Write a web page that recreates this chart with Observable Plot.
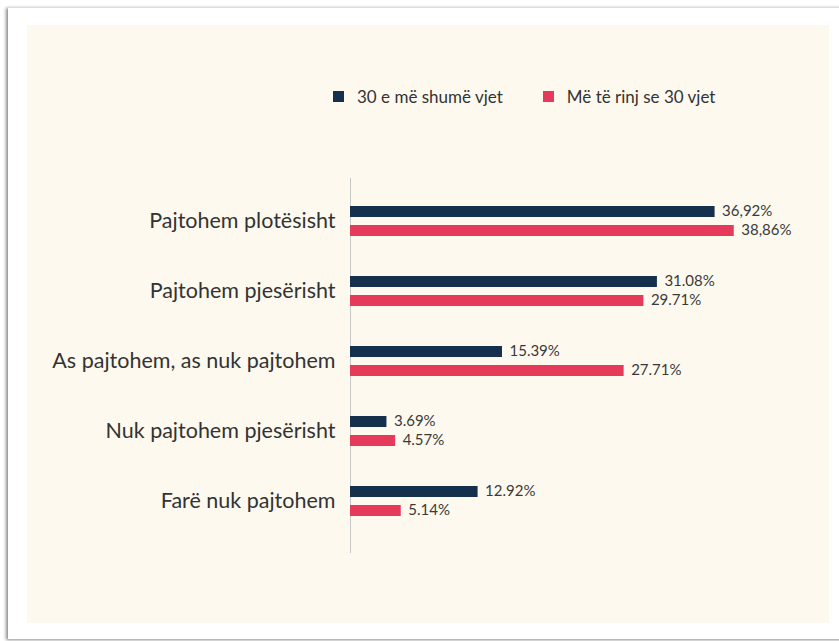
<!DOCTYPE html>
<html>
<head>
<meta charset="utf-8">
<script src="https://cdn.jsdelivr.net/npm/d3@7"></script>
<script src="https://cdn.jsdelivr.net/npm/@observablehq/plot@0.6"></script>
<style>
  html, body { margin: 0; padding: 0; background: #ffffff; }
  body { width: 839px; height: 641px; position: relative; overflow: hidden; font-family: Lato, "Noto Sans", sans-serif; }
  #frame { position: absolute; left: 8px; top: 7px; width: 840px; height: 631px; background: #ffffff;
           box-shadow: -2px 1px 3px rgba(0,0,0,0.45); border-top: 1px solid #dcdcdc; }
  #panel { position: absolute; left: 27px; top: 25px; width: 802px; height: 598px; background: #fdf9ee; }
  #legend { position: absolute; top: 86px; left: 333px; display: flex; align-items: center; font-size: 17px; color: #333; }
  .item { display: flex; align-items: center; }
  .sw { width: 11px; height: 11px; display: inline-block; margin-right: 13px; }
  #axisline, #chart { position: absolute; left: 0; top: 0; }
</style>
</head>
<body>
<div id="frame"></div>
<div id="panel"></div>
<div id="legend"></div>
<div id="axisline"></div>
<div id="chart"></div>
<script>
const categories = ["Pajtohem plotësisht", "Pajtohem pjesërisht", "As pajtohem, as nuk pajtohem", "Nuk pajtohem pjesërisht", "Farë nuk pajtohem"];
const series = ["30 e më shumë vjet", "Më të rinj se 30 vjet"];
const olderValues = [36.92, 31.08, 15.39, 3.69, 12.92];
const youngerValues = [38.86, 29.71, 27.71, 4.57, 5.14];
const olderLabels = ["36,92%", "31.08%", "15.39%", "3.69%", "12.92%"];
const youngerLabels = ["38,86%", "29.71%", "27.71%", "4.57%", "5.14%"];
const colors = ["#14304d", "#e63a5b"];

const table = [];
categories.forEach((c, i) => {
  table.push({category: c, series: series[0], value: olderValues[i], label: olderLabels[i]});
  table.push({category: c, series: series[1], value: youngerValues[i], label: youngerLabels[i]});
});

// legend
const legend = document.getElementById("legend");
series.forEach((s, i) => {
  const item = document.createElement("div");
  item.className = "item";
  if (i > 0) item.style.marginLeft = "40px";
  const sw = document.createElement("span");
  sw.className = "sw";
  sw.style.background = colors[i];
  item.appendChild(sw);
  const t = document.createElement("span");
  t.textContent = s;
  item.appendChild(t);
  legend.appendChild(item);
});

const common = {
  width: 839,
  height: 641,
  marginTop: 178,
  marginBottom: 88,
  marginLeft: 350,
  marginRight: 94,
  style: {background: "transparent", fontFamily: "Lato, 'Noto Sans', sans-serif", color: "#3a3a3a"},
  x: {domain: [0, 40], axis: null}
};

// vertical baseline axis spanning the whole frame
const axisPlot = Plot.plot({
  ...common,
  marks: [Plot.ruleX([0], {stroke: "#c9c9c9", strokeWidth: 1})]
});
document.getElementById("axisline").appendChild(axisPlot);

const chart = Plot.plot({
  ...common,
  y: {domain: series, axis: null, paddingInner: 0.436, paddingOuter: 0},
  fy: {domain: categories, paddingInner: 0.567, paddingOuter: 0.443, align: 0.436, label: null},
  color: {domain: series, range: colors},
  marks: [
    Plot.axisFy({anchor: "left", tickSize: 0, tickPadding: 15, fontSize: 21.5, label: null, fill: "#333"}),
    Plot.barX(table, {x: "value", y: "series", fy: "category", fill: "series"}),
    Plot.text(table, {x: "value", y: "series", fy: "category", text: "label", textAnchor: "start", dx: 7, dy: -1, fontSize: 15, fill: "#3a3a3a"})
  ]
});
document.getElementById("chart").appendChild(chart);
</script>
</body>
</html>
